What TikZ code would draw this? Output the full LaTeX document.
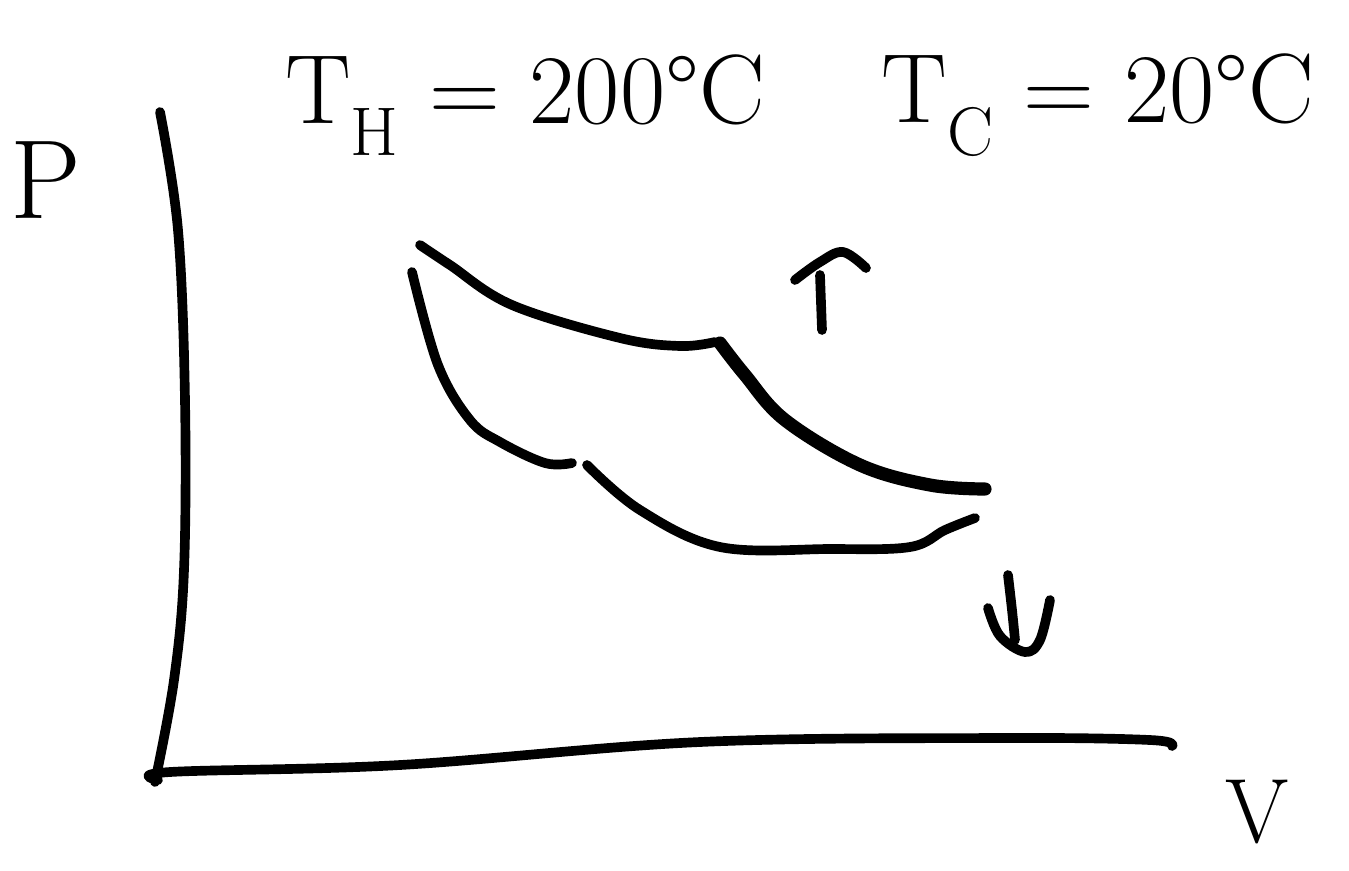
\documentclass[tikz,border=0pt]{standalone}
\definecolor{inkblack}{RGB}{0,0,0}
\usepackage{amsmath, amssymb}
\usepackage{tikz}
\usetikzlibrary{arrows.meta, positioning, calc}

\tikzset{
  pen/.style={inkblack, line width=5.5pt, line cap=round, line join=round},
  heavypen/.style={pen, line width=7.5pt},
  hand/.style={inkblack, inner sep=0pt},
}

\begin{document}
\begin{tikzpicture}[x=0.02cm, y=-0.02cm]
  \useasboundingbox (0,0) rectangle (1349,870);
  % axes
  \draw[pen] plot[smooth, tension=0.6] coordinates
    {(160,112) (178,230) (185,400) (184,570) (174,680) (155,782)};
  \draw[pen] plot[smooth, tension=0.6] coordinates
    {(158,780) (170,772) (400,765) (700,742) (1000,738) (1150,740) (1172,746)};
  \node[hand, font=\fontsize{64}{68}\selectfont] (plabel) at (46,180) {P};
  \node[hand, font=\fontsize{52}{56}\selectfont] (vlabel) at (1257,812) {V};
  % temperatures
  \node[hand, font=\fontsize{56}{60}\selectfont] (thot) at (525,105)
    {T\textsubscript{H} = 200°C};
  \node[hand, font=\fontsize{56}{60}\selectfont] (tcold) at (1098,105)
    {T\textsubscript{C} = 20°C};
  % upper branch
  \draw[pen] plot[smooth, tension=0.6] coordinates
    {(420,245) (450,265) (512,305) (620,338) (680,346) (715,342)};
  \draw[heavypen] plot[smooth, tension=0.6] coordinates
    {(720,343) (745,375) (785,420) (860,465) (930,485) (985,489)};
  % lower branch
  \draw[pen] plot[smooth, tension=0.6] coordinates
    {(412,272) (438,365) (470,420) (500,442) (545,463) (572,463)};
  \draw[pen] plot[smooth, tension=0.6] coordinates
    {(587,465) (640,510) (720,547) (830,549) (910,547) (945,530) (975,518)};
  % direction marks
  \draw[pen] (822,330) -- (820,275);
  \draw[pen] plot[smooth, tension=0.6] coordinates
    {(795,280) (820,262) (843,252) (866,268)};
  \draw[pen] plot[smooth, tension=0.6] coordinates {(1008,575) (1012,610) (1015,640)};
  \draw[pen] plot[smooth, tension=0.6] coordinates
    {(988,608) (1000,636) (1025,652) (1040,640) (1050,600)};
\end{tikzpicture}
\end{document}
